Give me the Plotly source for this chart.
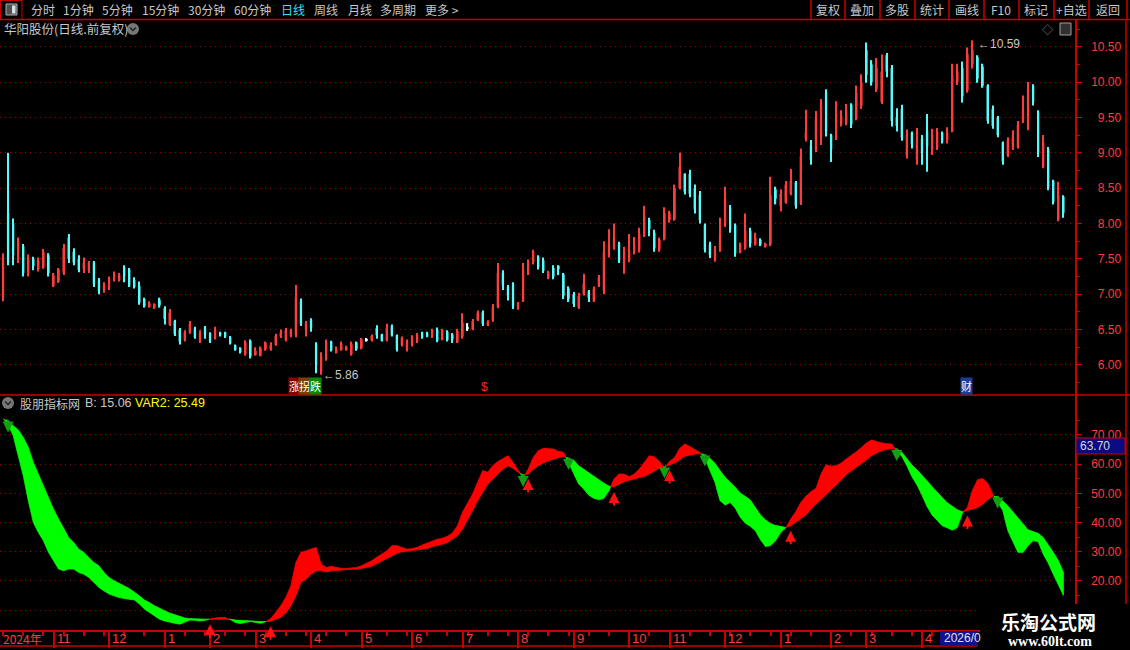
import plotly.graph_objects as go

W, H = 1130, 650

# daily candles, one mark per ~2 sessions
open_ = [
    6.95, 8.15, 8.00, 7.50, 7.68, 7.30, 7.50, 7.35, 7.38, 7.55,
    7.12, 7.18, 7.30, 7.80, 7.60, 7.50, 7.35, 7.33, 7.45, 7.20,
    7.05, 7.08, 7.20, 7.20, 7.38, 7.35, 7.20, 7.12, 6.93, 6.82,
    6.81, 6.92, 6.80, 6.57, 6.62, 6.50, 6.35, 6.45, 6.52, 6.33,
    6.52, 6.44, 6.38, 6.46, 6.46, 6.39, 6.28, 6.24, 6.15, 6.34,
    6.14, 6.13, 6.22, 6.22, 6.28, 6.40, 6.35, 6.41, 6.42, 6.90,
    6.50, 6.64, 6.30, 5.90, 6.08, 6.33, 6.17, 6.21, 6.21, 6.15,
    6.32, 6.24, 6.35, 6.35, 6.52, 6.43, 6.35, 6.55, 6.42, 6.28,
    6.21, 6.28, 6.33, 6.46, 6.45, 6.41, 6.50, 6.36, 6.47, 6.43,
    6.32, 6.40, 6.52, 6.50, 6.63, 6.74, 6.56, 6.63, 6.82, 7.30,
    7.10, 7.15, 6.80, 6.90, 7.30, 7.45, 7.53, 7.48, 7.23, 7.37,
    7.40, 7.28, 7.08, 7.00, 6.81, 7.00, 7.04, 6.90, 7.12, 7.05,
    7.55, 7.65, 7.72, 7.32, 7.48, 7.60, 7.62, 7.82, 8.05, 7.87,
    7.63, 7.78, 8.05, 8.06, 8.50, 8.70, 8.70, 8.50, 8.40, 7.98,
    7.70, 7.48, 7.61, 7.97, 8.22, 7.98, 7.59, 7.65, 7.90, 7.70,
    7.77, 7.67, 7.70, 8.48, 8.25, 8.30, 8.42, 8.58, 8.28, 9.20,
    9.10, 9.03, 9.22, 9.85, 9.25, 9.20, 9.40, 9.42, 9.68, 9.48,
    9.66, 10.45, 10.25, 9.90, 9.72, 10.38, 10.20, 9.50, 9.62, 8.95,
    9.28, 8.90, 9.20, 9.30, 9.05, 9.07, 9.28, 9.18, 9.30, 10.00,
    10.20, 9.88, 10.25, 10.35, 10.22, 9.95, 9.62, 9.50, 9.15, 8.96,
    9.06, 9.08, 9.45, 9.35, 9.95, 9.58, 8.80, 9.05, 8.60, 8.05,
    8.38,
]
high = [
    7.58, 9.00, 8.07, 7.80, 7.71, 7.56, 7.53, 7.52, 7.64, 7.58,
    7.30, 7.37, 7.71, 7.85, 7.65, 7.55, 7.52, 7.47, 7.47, 7.23,
    7.17, 7.25, 7.32, 7.30, 7.41, 7.37, 7.24, 7.18, 6.95, 6.90,
    6.87, 6.95, 6.83, 6.79, 6.64, 6.52, 6.49, 6.62, 6.54, 6.49,
    6.55, 6.46, 6.54, 6.47, 6.47, 6.41, 6.29, 6.25, 6.35, 6.36,
    6.25, 6.26, 6.33, 6.32, 6.44, 6.50, 6.52, 6.51, 7.13, 6.94,
    6.62, 6.66, 6.32, 6.18, 6.36, 6.34, 6.26, 6.33, 6.27, 6.33,
    6.33, 6.38, 6.38, 6.43, 6.56, 6.44, 6.58, 6.57, 6.43, 6.40,
    6.36, 6.42, 6.45, 6.47, 6.47, 6.51, 6.53, 6.51, 6.49, 6.45,
    6.51, 6.73, 6.59, 6.65, 6.77, 6.77, 6.63, 6.86, 7.44, 7.34,
    7.13, 7.17, 6.89, 7.44, 7.49, 7.63, 7.55, 7.52, 7.33, 7.41,
    7.41, 7.30, 7.11, 7.03, 7.02, 7.29, 7.06, 7.11, 7.27, 7.75,
    7.92, 8.00, 7.74, 7.67, 7.85, 7.81, 7.94, 8.25, 8.08, 7.91,
    7.80, 8.23, 8.18, 8.55, 9.00, 8.71, 8.76, 8.55, 8.46, 8.00,
    7.74, 7.68, 8.08, 8.52, 8.26, 8.00, 7.73, 8.14, 7.94, 7.87,
    7.79, 7.73, 8.66, 8.52, 8.48, 8.60, 8.77, 8.60, 9.06, 9.61,
    9.18, 9.59, 9.76, 9.90, 9.27, 9.73, 9.60, 9.69, 9.70, 9.95,
    10.11, 10.56, 10.31, 10.34, 10.39, 10.41, 10.24, 9.63, 9.68, 9.33,
    9.30, 9.35, 9.25, 9.55, 9.34, 9.35, 9.30, 9.36, 10.26, 10.26,
    10.29, 10.49, 10.59, 10.38, 10.26, 9.97, 9.67, 9.52, 9.16, 9.22,
    9.32, 9.45, 9.81, 10.00, 9.97, 9.60, 9.25, 9.08, 8.62, 8.59,
    8.40,
]
low = [
    6.90, 7.41, 7.41, 7.44, 7.25, 7.25, 7.34, 7.32, 7.36, 7.25,
    7.10, 7.16, 7.27, 7.44, 7.41, 7.31, 7.30, 7.30, 7.10, 7.00,
    7.02, 7.06, 7.18, 7.18, 7.17, 7.10, 7.08, 6.85, 6.81, 6.81,
    6.79, 6.81, 6.57, 6.55, 6.41, 6.29, 6.33, 6.44, 6.37, 6.31,
    6.37, 6.31, 6.36, 6.40, 6.38, 6.29, 6.20, 6.16, 6.13, 6.09,
    6.13, 6.12, 6.20, 6.20, 6.27, 6.38, 6.33, 6.39, 6.39, 6.55,
    6.40, 6.47, 5.88, 5.86, 6.06, 6.19, 6.16, 6.20, 6.20, 6.13,
    6.20, 6.22, 6.33, 6.33, 6.37, 6.33, 6.33, 6.40, 6.19, 6.26,
    6.19, 6.26, 6.31, 6.37, 6.39, 6.38, 6.32, 6.35, 6.33, 6.31,
    6.31, 6.37, 6.48, 6.49, 6.62, 6.55, 6.55, 6.61, 6.80, 7.06,
    6.91, 6.79, 6.78, 6.89, 7.27, 7.42, 7.35, 7.30, 7.21, 7.21,
    7.27, 6.93, 6.89, 6.82, 6.79, 6.98, 6.89, 6.89, 7.10, 7.00,
    7.52, 7.63, 7.44, 7.29, 7.45, 7.56, 7.59, 7.81, 7.82, 7.60,
    7.60, 7.76, 8.01, 8.04, 8.48, 8.41, 8.37, 8.14, 8.00, 7.59,
    7.51, 7.46, 7.60, 7.95, 7.87, 7.53, 7.58, 7.63, 7.66, 7.69,
    7.68, 7.66, 7.68, 8.27, 8.17, 8.28, 8.40, 8.21, 8.26, 9.16,
    8.83, 9.01, 9.11, 9.23, 8.87, 9.18, 9.37, 9.39, 9.35, 9.46,
    9.62, 9.99, 9.95, 9.86, 9.69, 10.07, 9.37, 9.30, 9.17, 8.92,
    9.06, 8.83, 8.83, 8.73, 8.97, 9.04, 9.13, 9.13, 9.29, 9.96,
    9.71, 9.85, 10.19, 9.99, 9.92, 9.41, 9.34, 9.22, 8.83, 8.94,
    9.04, 9.06, 9.42, 9.32, 9.67, 8.94, 8.78, 8.47, 8.27, 8.03,
    8.08,
]
close = [
    7.52, 7.45, 7.55, 7.75, 7.30, 7.50, 7.40, 7.48, 7.60, 7.30,
    7.27, 7.35, 7.65, 7.50, 7.45, 7.34, 7.45, 7.45, 7.15, 7.03,
    7.15, 7.22, 7.28, 7.27, 7.25, 7.12, 7.10, 6.88, 6.83, 6.87,
    6.86, 6.84, 6.65, 6.74, 6.43, 6.33, 6.46, 6.58, 6.39, 6.45,
    6.42, 6.33, 6.50, 6.42, 6.40, 6.30, 6.21, 6.18, 6.32, 6.12,
    6.20, 6.24, 6.31, 6.28, 6.41, 6.46, 6.50, 6.49, 6.95, 6.58,
    6.60, 6.52, 6.00, 6.12, 6.32, 6.21, 6.22, 6.30, 6.26, 6.30,
    6.22, 6.36, 6.35, 6.41, 6.42, 6.34, 6.52, 6.42, 6.22, 6.38,
    6.34, 6.40, 6.43, 6.39, 6.40, 6.49, 6.34, 6.49, 6.35, 6.36,
    6.48, 6.60, 6.52, 6.62, 6.74, 6.58, 6.61, 6.82, 7.30, 7.12,
    6.98, 6.82, 6.87, 7.35, 7.46, 7.60, 7.38, 7.33, 7.31, 7.25,
    7.35, 6.98, 6.93, 6.86, 6.98, 7.15, 6.95, 7.08, 7.24, 7.60,
    7.70, 7.80, 7.47, 7.60, 7.62, 7.70, 7.85, 8.10, 7.92, 7.65,
    7.77, 8.15, 8.15, 8.50, 8.80, 8.45, 8.42, 8.20, 8.05, 7.63,
    7.55, 7.65, 7.85, 8.35, 7.92, 7.58, 7.70, 7.90, 7.72, 7.80,
    7.70, 7.71, 8.40, 8.35, 8.42, 8.55, 8.60, 8.25, 8.95, 9.30,
    8.90, 9.50, 9.70, 9.30, 9.05, 9.55, 9.52, 9.60, 9.40, 9.85,
    10.00, 10.10, 10.00, 10.20, 10.15, 10.15, 9.45, 9.38, 9.22, 9.25,
    9.12, 9.20, 9.00, 9.10, 9.25, 9.30, 9.16, 9.28, 10.10, 10.15,
    9.80, 10.40, 10.45, 10.05, 9.95, 9.45, 9.38, 9.25, 8.88, 9.18,
    9.25, 9.40, 9.60, 9.90, 9.72, 9.00, 9.15, 8.50, 8.30, 8.40,
    8.15,
]

# indicator lines (fast B, slow VAR2)
b_line = [
    75.8, 73.5, 69.8, 62.9, 56.1, 47.5, 40.0, 36.6, 33.8, 29.8,
    26.9, 24.1, 23.5, 24.1, 24.1, 22.9, 22.3, 21.2, 19.5, 17.8,
    16.6, 15.5, 14.9, 14.3, 14.0, 13.8, 13.5, 12.1, 10.4, 9.2,
    8.1, 6.9, 6.3, 5.8, 5.5, 5.2, 5.8, 6.6, 6.5, 6.3,
    6.5, 7.0, 7.3, 7.5, 7.4, 6.8, 5.8, 5.4, 5.8, 6.1,
    5.8, 5.5, 6.0, 7.1, 9.2, 11.5, 14.3, 18.3, 26.3, 29.8,
    30.3, 30.9, 31.5, 25.8, 24.6, 25.0, 24.6, 24.3, 24.3, 24.4,
    24.6, 25.2, 26.1, 26.9, 28.1, 29.2, 30.3, 32.1, 32.1, 31.5,
    30.9, 31.1, 31.5, 32.3, 33.0, 33.8, 34.3, 34.6, 35.3, 36.4,
    38.9, 43.5, 46.9, 49.8, 53.8, 57.8, 57.2, 59.5, 60.9, 61.8,
    62.9, 60.6, 57.8, 55.5, 58.3, 62.3, 64.6, 65.4, 65.4, 65.2,
    64.4, 64.1, 60.6, 57.2, 53.2, 51.5, 49.4, 48.3, 47.8, 48.3,
    50.9, 54.9, 56.6, 56.6, 55.7, 56.6, 58.3, 60.6, 62.9, 62.5,
    60.9, 58.8, 60.9, 62.3, 65.4, 66.9, 66.1, 65.0, 64.1, 62.0,
    57.8, 53.8, 47.5, 46.0, 46.9, 45.0, 41.8, 39.8, 38.7, 37.2,
    34.1, 31.8, 32.1, 33.8, 36.6, 38.0, 41.2, 43.7, 46.9, 49.0,
    50.6, 51.7, 56.6, 59.8, 59.3, 59.5, 60.4, 61.8, 62.9, 64.3,
    65.7, 67.3, 68.3, 67.7, 67.3, 67.0, 66.9, 64.5, 62.7, 59.5,
    55.7, 52.9, 49.4, 45.5, 42.6, 40.6, 38.9, 38.2, 37.4, 38.3,
    43.3, 45.2, 51.1, 54.7, 55.1, 53.5, 49.8, 47.1, 44.1, 37.2,
    33.2, 29.8, 29.8, 32.1, 33.8, 33.5, 29.2, 26.1, 22.3, 18.9,
    15.1,
]
var2 = [
    75.3, 75.0, 73.2, 71.8, 69.2, 65.8, 60.6, 57.2, 53.2, 48.6,
    44.6, 41.2, 37.8, 34.9, 33.2, 30.9, 29.8, 28.0, 26.3, 25.2,
    22.9, 21.2, 20.1, 19.1, 18.3, 17.4, 16.3, 14.9, 13.5, 12.6,
    11.5, 10.6, 9.8, 9.0, 8.3, 7.8, 7.3, 7.1, 7.0, 6.9,
    6.9, 6.9, 6.7, 6.8, 6.9, 6.9, 6.6, 6.5, 6.3, 6.2,
    6.2, 6.1, 6.1, 6.2, 6.9, 7.5, 9.0, 11.5, 14.9, 19.5,
    20.6, 22.3, 23.5, 23.5, 23.1, 23.5, 23.8, 23.8, 23.9, 24.0,
    24.0, 24.3, 24.6, 25.0, 25.8, 26.9, 27.7, 28.6, 29.5, 30.0,
    30.3, 30.5, 30.5, 30.9, 31.1, 31.8, 32.3, 32.6, 33.2, 34.3,
    35.5, 37.8, 41.2, 44.1, 47.5, 50.3, 53.2, 54.9, 56.6, 58.3,
    59.5, 58.6, 57.2, 56.3, 56.6, 58.2, 59.5, 60.4, 61.2, 61.8,
    62.2, 62.6, 62.1, 61.4, 59.5, 58.1, 56.9, 55.7, 54.7, 53.5,
    52.5, 52.2, 53.1, 54.0, 54.6, 54.9, 55.4, 55.8, 56.6, 57.7,
    58.6, 59.2, 59.7, 60.4, 61.5, 62.7, 63.1, 63.5, 63.6, 63.3,
    62.0, 60.3, 57.8, 55.5, 53.8, 52.1, 50.1, 49.0, 47.7, 45.2,
    42.6, 40.9, 39.7, 39.0, 38.7, 38.3, 38.9, 40.1, 41.5, 42.6,
    44.6, 46.1, 47.8, 49.5, 51.5, 52.9, 54.6, 56.5, 57.8, 59.1,
    60.3, 61.5, 62.9, 63.8, 64.6, 65.1, 65.3, 65.2, 64.1, 62.0,
    59.7, 58.1, 56.4, 54.3, 52.3, 50.3, 48.6, 46.8, 45.5, 44.4,
    43.7, 44.1, 44.6, 45.2, 46.2, 47.8, 49.0, 48.9, 47.4, 45.7,
    43.7, 41.7, 39.6, 37.5, 36.9, 36.3, 34.9, 32.3, 29.8, 26.9,
    23.0,
]

# month boundaries (candle index) and their labels
month_pos = [10, 21, 32, 41, 50, 61, 71, 81, 91, 102, 113, 124, 132, 143, 154, 164, 171, 182]
month_labels = ["11", "12", "1", "2", "3", "4", "5", "6", "7", "8", "9", "10", "11", "12", "1", "2", "3", "4"]
price_ticks = [6.0, 6.5, 7.0, 7.5, 8.0, 8.5, 9.0, 9.5, 10.0, 10.5]
ind_ticks = [10, 20, 30, 40, 50, 60, 70]

UP = "#ff3c3c"
DOWN = "#54fcfc"
AXIS_RED = "#c80000"
GRID_RED = "#9a0000"
LABEL_RED = "#ff3c3c"
GRAY = "#c8c8c8"
CJK = "Noto Sans CJK SC"
NUM = "Liberation Sans"


def px(x):
    return x / W


def py(y):
    return 1 - y / H


n = len(close)
idx = list(range(n))
x_range = [-0.6, 212.3]
ind_range = [3.2, 83.7]
units_per_px = (ind_range[1] - ind_range[0]) / 235

colors = []
for o, c in zip(open_, close):
    if c > o:
        colors.append(UP)
    elif c < o:
        colors.append(DOWN)
    else:
        colors.append("#ffffff")

fig = go.Figure()

# candles as floating bars: thin wick + slightly wider body
fig.add_trace(go.Bar(
    x=idx, y=[h - l for h, l in zip(high, low)], base=low, width=0.24,
    marker=dict(color=colors, line=dict(width=0)), hoverinfo="skip",
    xaxis="x", yaxis="y",
))
fig.add_trace(go.Bar(
    x=idx, y=[max(abs(c - o), 0.015) for o, c in zip(open_, close)],
    base=[min(o, c) for o, c in zip(open_, close)], width=0.46,
    marker=dict(color=colors, line=dict(width=0)), hoverinfo="skip",
    xaxis="x", yaxis="y",
))

# indicator band, split where B crosses VAR2
diff = [b - v for b, v in zip(b_line, var2)]
polys = []
cur = [(0, b_line[0], var2[0])]
for i in range(1, n):
    if (diff[i] > 0) != (diff[i - 1] > 0):
        t = diff[i - 1] / (diff[i - 1] - diff[i])
        xc = i - 1 + t
        yc = b_line[i - 1] + t * (b_line[i] - b_line[i - 1])
        cur.append((xc, yc, yc))
        polys.append((diff[i - 1] > 0, cur))
        cur = [(xc, yc, yc)]
    cur.append((i, b_line[i], var2[i]))
polys.append((diff[-1] > 0, cur))

for rising, pts in polys:
    col = "#ff0000" if rising else "#00ff00"
    xs = [p[0] for p in pts] + [p[0] for p in reversed(pts)]
    ys = [p[1] for p in pts] + [p[2] for p in reversed(pts)]
    fig.add_trace(go.Scatter(
        x=xs, y=ys, fill="toself", fillcolor=col, mode="lines",
        line=dict(color=col, width=0.8), hoverinfo="skip",
        xaxis="x2", yaxis="y2",
    ))

annotations = []

# cross arrows
for i in range(1, n):
    if (diff[i] > 0) == (diff[i - 1] > 0):
        continue
    if diff[i] > 0:
        annotations.append(dict(
            x=i, y=min(b_line[i], var2[i]) - 5 * units_per_px, xref="x2", yref="y2",
            text="", showarrow=True, ax=0, ay=15, arrowhead=2, arrowsize=1.1,
            arrowwidth=2, arrowcolor="#ff1010",
        ))
    else:
        annotations.append(dict(
            x=i, y=max(b_line[i], var2[i]) - 12 * units_per_px, xref="x2", yref="y2",
            text="", showarrow=True, ax=0, ay=-14, arrowhead=2, arrowsize=1.1,
            arrowwidth=2, arrowcolor="#12a012",
        ))

# max / min price marks
i_max = high.index(max(high))
i_min = low.index(min(low))
annotations.append(dict(
    x=i_max, y=high[i_max], xref="x", yref="y", text=f"←{high[i_max]:.2f}",
    showarrow=False, xanchor="left", yanchor="middle", xshift=3, yshift=-4,
    font=dict(family=NUM, size=12, color=GRAY),
))
annotations.append(dict(
    x=i_min, y=low[i_min], xref="x", yref="y", text=f"←{low[i_min]:.2f}",
    showarrow=False, xanchor="left", yanchor="middle", xshift=0,
    font=dict(family=NUM, size=12, color=GRAY),
))

# date strip labels
annotations.append(dict(
    x=px(1), y=py(638), xref="paper", yref="paper", text="2024年", showarrow=False,
    xanchor="left", yanchor="middle", font=dict(family=CJK, size=12, color=LABEL_RED),
))
for pos, lab in zip(month_pos, month_labels):
    annotations.append(dict(
        x=pos, y=py(638), xref="x2", yref="paper", text=lab, showarrow=False,
        xanchor="left", yanchor="middle", xshift=1,
        font=dict(family=NUM, size=13, color=LABEL_RED),
    ))


def text_at(x, y, s, color=GRAY, size=12, anchor="left", family=CJK, **kw):
    d = dict(x=px(x), y=py(y), xref="paper", yref="paper", text=s, showarrow=False,
             xanchor=anchor, yanchor="middle", font=dict(family=family, size=size, color=color))
    d.update(kw)
    annotations.append(d)


# toolbar
left_items = [("分时", 29), ("1分钟", 61), ("5分钟", 100), ("15分钟", 140), ("30分钟", 186),
              ("60分钟", 232), ("日线", 279), ("周线", 312), ("月线", 346), ("多周期", 378), ("更多 >", 423)]
for s, x in left_items:
    text_at(x, 10, s, color="#3fdcff" if s == "日线" else GRAY, size=12)
right_items = [("复权", 828), ("叠加", 862), ("多股", 897), ("统计", 932), ("画线", 967),
               ("F10", 1001), ("标记", 1036), ("+自选", 1071), ("返回", 1108)]
for s, x in right_items:
    text_at(x, 10, s, size=12, anchor="center")

# panel titles
text_at(2, 29, "华阳股份(日线.前复权)", size=12.5)
text_at(1047, 29, "◇", color="#9a9a9a", size=11, anchor="center")
text_at(18, 403, "股朋指标网", size=12)
text_at(83, 403, "B: 15.06", size=12.5, family=NUM)
text_at(133, 403, "VAR2: 25.49", color="#ffff00", size=12.5, family=NUM)

# signal tags under the price panel
text_at(294, 386, "涨", color="#ffffff", size=11, anchor="center", bgcolor="#8a0000", borderpad=0)
text_at(304.5, 386, "拐", color="#ffffff", size=11, anchor="center", bgcolor="#7a4000", borderpad=0)
text_at(315.5, 386, "跌", color="#ffffff", size=11, anchor="center", bgcolor="#008a00", borderpad=0)
text_at(484, 387, "$", color="#ff2020", size=12, anchor="center", family=NUM)
text_at(966, 386, "财", color="#ffffff", size=11, anchor="center", bgcolor="#1a3ca0", borderpad=0)

# value box on indicator axis and date box
text_at(1078, 446, "63.70", color="#d8d8d8", size=12, family=NUM)
text_at(942, 638, "2026/0", color="#e0e0e0", size=12, family=NUM)

# watermark
text_at(1048, 621, "<b>乐淘公式网</b>", color="#ffffff", size=19, anchor="center")
text_at(1050, 641, "<b>www.60lt.com</b>", color="#ffffff", size=14, anchor="center",
        family="Liberation Serif")

shapes = []


def line_px(x0, y0, x1, y1, color=AXIS_RED, width=1.5):
    shapes.append(dict(type="line", xref="paper", yref="paper", x0=px(x0), y0=py(y0),
                       x1=px(x1), y1=py(y1), line=dict(color=color, width=width)))


def rect_px(x0, y0, x1, y1, fill, color=AXIS_RED, width=1, layer="above"):
    shapes.append(dict(type="rect", xref="paper", yref="paper", x0=px(x0), y0=py(y0),
                       x1=px(x1), y1=py(y1), fillcolor=fill, layer=layer,
                       line=dict(color=color, width=width)))


line_px(0, 19.5, W, 19.5)
rect_px(0.5, 0.5, 22, 19.5, "rgba(0,0,0,0)")
rect_px(6, 4, 17, 15, "#505050", color="#b0b0b0", width=1)
rect_px(12, 5.5, 15.5, 13.5, "#e0e0e0", color="#e0e0e0", width=0)
for x in [811, 845, 880, 915, 949, 984, 1019, 1054, 1089, 1127]:
    line_px(x, 0, x, 19.5)
line_px(1126, 19.5, 1126, 604)
line_px(0, 395, W, 395)
line_px(0, 646, 978, 646)

# round menu icons
shapes.append(dict(type="circle", xref="paper", yref="paper", x0=px(127), y0=py(35),
                   x1=px(139), y1=py(23), fillcolor="#777777", line=dict(width=0)))
shapes.append(dict(type="circle", xref="paper", yref="paper", x0=px(2), y0=py(409),
                   x1=px(14), y1=py(397), fillcolor="#777777", line=dict(width=0)))
for cx, cy in [(133, 29), (8, 403)]:
    shapes.append(dict(type="path", xref="paper", yref="paper",
                       path=f"M {px(cx - 3)} {py(cy - 1.5)} L {px(cx)} {py(cy + 1.5)} L {px(cx + 3)} {py(cy - 1.5)}",
                       line=dict(color="#222222", width=1.5)))
rect_px(1060, 23, 1071, 35, "#303030", color="#a0a0a0", width=1)

rect_px(1076, 438, 1125, 454, "#0a0a82")
rect_px(940, 631, 978, 645.5, "#101090", color="#101090", width=0)
rect_px(980, 604, W, H, "#000000", color="#000000", width=0)


def price_text(v):
    return f"{v:.2f}".rjust(5, "\u2007")


axis_common = dict(
    showline=True, linecolor=AXIS_RED, linewidth=1.5, side="right",
    ticks="outside", ticklen=5, tickcolor=AXIS_RED, tickwidth=1,
    tickfont=dict(family=NUM, size=12, color=LABEL_RED), ticklabelstandoff=7,
    showgrid=True, gridcolor=GRID_RED, griddash="1px,4px", gridwidth=1, zeroline=False,
)

# the 10 level keeps its grid line; its label sits under the watermark in the original
ind_text = ["" if v == 10 else price_text(v) for v in ind_ticks]

fig.update_layout(
    width=W, height=H, margin=dict(l=0, r=0, t=0, b=0),
    paper_bgcolor="black", plot_bgcolor="black",
    showlegend=False, barmode="overlay", hovermode=False,
    xaxis=dict(domain=[0, px(1075)], range=x_range, anchor="y", showticklabels=False,
               showgrid=False, zeroline=False, showline=False, ticks=""),
    yaxis=dict(domain=[py(395), py(20)], range=[5.574, 10.878], anchor="x",
               tickvals=price_ticks, ticktext=[price_text(v) for v in price_ticks],
               minor=dict(tickmode="linear", tick0=0.25, dtick=0.5, ticklen=3,
                          tickcolor=AXIS_RED, showgrid=False),
               **axis_common),
    xaxis2=dict(domain=[0, px(1075)], range=x_range, anchor="y2", matches="x",
                showticklabels=False, showgrid=False, zeroline=False,
                showline=True, linecolor=AXIS_RED, linewidth=1.5,
                ticks="outside", ticklen=16, tickwidth=1.5, tickcolor=AXIS_RED, tickvals=month_pos,
                minor=dict(tickmode="linear", tick0=0, dtick=4, ticklen=4, tickcolor=AXIS_RED)),
    yaxis2=dict(domain=[py(630), py(395)], range=ind_range, anchor="x2",
                tickvals=ind_ticks, ticktext=ind_text,
                minor=dict(tickmode="linear", tick0=5, dtick=10, ticklen=3,
                           tickcolor=AXIS_RED, showgrid=False),
                **axis_common),
    annotations=annotations,
    shapes=shapes,
)

# drop the browser's default page margin so the chart fills the window exactly
fig.write_html(
    "out.html",
    config={"displayModeBar": False},
    post_script="document.body.style.margin='0';",
)
